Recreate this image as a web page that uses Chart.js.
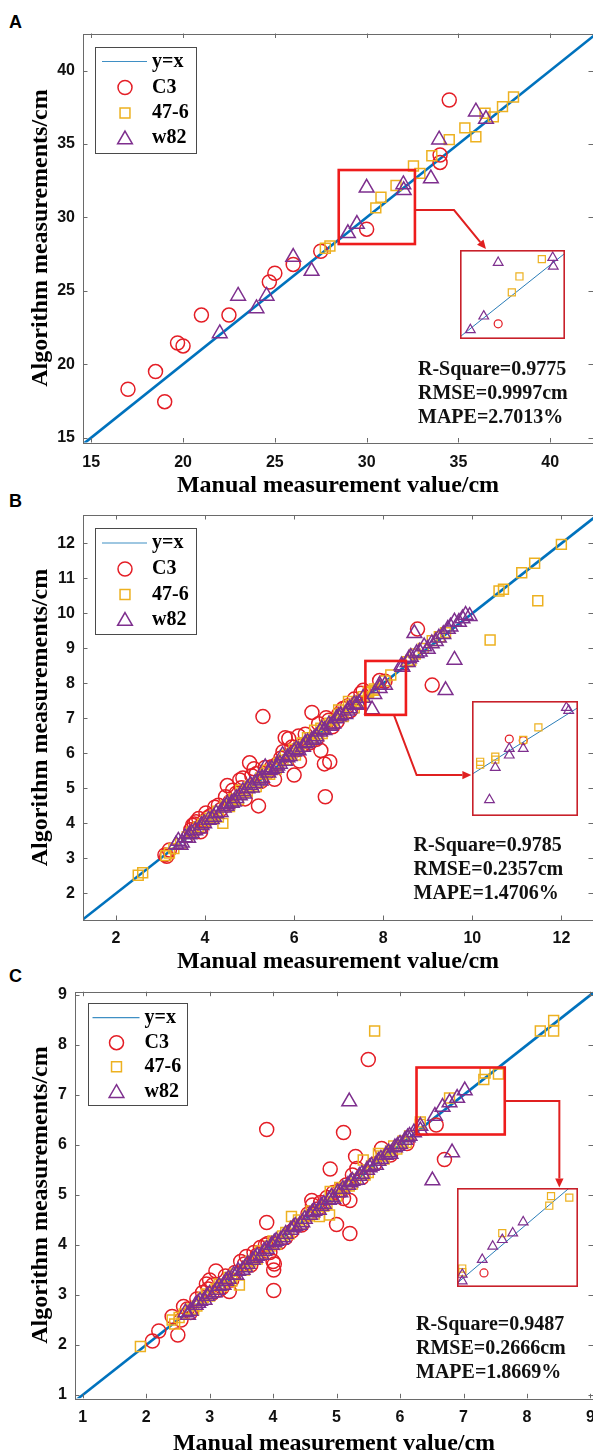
<!DOCTYPE html>
<html><head><meta charset="utf-8">
<script src="https://cdn.jsdelivr.net/npm/chart.js@4.4.1/dist/chart.umd.min.js"></script>
<style>
html,body{margin:0;padding:0;background:#fff;}
body{width:593px;height:1455px;position:relative;overflow:hidden;}
canvas{position:absolute;left:0;}
.lab{position:absolute;font:bold 18px "Liberation Sans",Arial,sans-serif;color:#000;line-height:20px;}
</style></head><body>
<div class="lab" style="left:9px;top:12px">A</div>
<div class="lab" style="left:9px;top:491px">B</div>
<div class="lab" style="left:9px;top:966px">C</div>
<canvas id="cA" width="593" height="500" style="top:0px"></canvas>
<canvas id="cB" width="593" height="490" style="top:490px"></canvas>
<canvas id="cC" width="593" height="490" style="top:965px"></canvas>
<script>
// ---------------- shared text ----------------
const xTitle = 'Manual measurement value/cm';
const yTitle = 'Algorithm measurements/cm';
const legendLabels = ['y=x', 'C3', '47-6', 'w82'];

// ---------------- Panel A ----------------
const A_xTicks = [15, 20, 25, 30, 35, 40];
const A_yTicks = [15, 20, 25, 30, 35, 40];
const A_xLim = [14.55, 42.33];
const A_yLim = [14.67, 42.53];
const A_C3 = [[17.0,18.3],[18.5,19.5],[19.0,17.45],[19.7,21.45],[20.0,21.25],[21.0,23.35],[22.5,23.35],[24.7,25.6],[25.0,26.2],[26.0,26.8],[27.5,27.7],[30.0,29.2],[34.0,33.75],[34.0,34.25],[34.5,38.0]];
const A_476 = [[27.75,27.9],[28.0,28.05],[30.5,30.65],[30.78,31.38],[31.6,32.18],[32.55,33.5],[32.9,33.0],[33.55,34.2],[34.5,35.3],[35.35,36.1],[35.95,35.5],[36.45,37.1],[36.9,36.85],[37.4,37.55],[38.0,38.2]];
const A_w82 = [[22.0,22.1],[23.0,24.65],[24.0,23.8],[24.55,24.65],[26.0,27.3],[27.0,26.35],[28.98,28.92],[29.47,29.55],[30.0,32.02],[32.0,32.25],[32.02,31.85],[33.5,32.65],[33.95,35.3],[35.95,37.2],[36.5,36.7]];
const A_zoomBox = [28.48, 32.63, 28.19, 33.23];
const A_insetArea = [35.1, 40.82, 21.7, 27.79];
const A_insetLim = [28.6, 32.45, 28.5, 32.6];
const A_arrow = [[32.63, 30.5], [34.76, 30.5], [36.5, 27.85]];
const A_stats = ['R-Square=0.9775', 'RMSE=0.9997cm', 'MAPE=2.7013%'];

// ---------------- Panel B ----------------
const B_xTicks = [2, 4, 6, 8, 10, 12];
const B_yTicks = [2, 3, 4, 5, 6, 7, 8, 9, 10, 11, 12];
const B_xLim = [1.26, 12.71];
const B_yLim = [1.24, 12.81];
const B_C3 = [[3.10,3.10],[3.14,3.06],[3.20,3.24],[3.68,3.82],[3.72,3.95],[3.76,3.98],[3.80,4.05],[3.82,3.86],[3.86,4.14],[3.90,3.76],[3.93,3.92],[3.96,4.04],[4.02,4.30],[4.06,4.16],[4.12,4.22],[4.22,4.46],[4.30,4.52],[4.36,4.40],[4.46,4.76],[4.50,5.08],[4.56,4.62],[4.62,4.95],[4.70,4.86],[4.78,5.24],[4.82,5.02],[4.85,5.30],[4.90,4.70],[5.00,5.73],[5.05,5.36],[5.10,5.56],[5.15,5.42],[5.20,4.50],[5.26,5.20],[5.30,7.05],[5.35,5.60],[5.40,5.46],[5.50,5.62],[5.56,5.26],[5.62,5.70],[5.70,5.86],[5.75,6.05],[5.80,6.45],[5.88,6.42],[5.95,6.18],[6.00,5.38],[6.06,6.10],[6.10,6.50],[6.12,5.78],[6.20,6.24],[6.25,6.55],[6.35,6.30],[6.40,7.17],[6.50,6.40],[6.55,6.85],[6.60,6.08],[6.68,5.70],[6.70,4.76],[6.72,7.02],[6.78,6.95],[6.80,5.76],[6.86,6.76],[6.96,6.90],[7.00,7.12],[7.10,7.28],[7.20,7.35],[7.26,7.22],[7.35,7.55],[7.42,7.46],[7.50,7.72],[7.55,7.80],[7.92,8.08],[8.04,8.06],[8.77,9.55],[9.10,7.95]];
const B_476 = [[2.50,2.52],[2.60,2.59],[3.12,3.08],[3.20,3.15],[3.30,3.28],[3.45,3.42],[3.60,3.62],[3.70,3.75],[3.85,3.90],[3.95,3.98],[4.02,4.08],[4.10,4.15],[4.20,4.22],[4.28,4.35],[4.30,4.18],[4.40,4.00],[4.45,4.50],[4.55,4.48],[4.58,4.62],[4.65,4.70],[4.75,4.68],[4.80,4.95],[4.85,4.88],[4.95,4.92],[5.00,5.05],[5.05,5.10],[5.15,5.05],[5.20,5.18],[5.25,5.30],[5.35,5.42],[5.40,5.52],[5.45,5.40],[5.55,5.60],[5.60,5.55],[5.65,5.72],[5.75,5.80],[5.80,5.95],[5.85,5.82],[5.95,6.00],[6.00,6.12],[6.03,5.95],[6.12,6.19],[6.18,6.30],[6.25,6.30],[6.30,6.45],[6.37,6.38],[6.42,6.40],[6.46,6.66],[6.55,6.52],[6.60,6.72],[6.63,6.57],[6.72,6.80],[6.80,6.86],[6.85,6.80],[6.90,6.95],[7.00,7.24],[7.05,7.15],[7.10,7.05],[7.22,7.48],[7.28,7.40],[7.35,7.30],[7.45,7.50],[7.55,7.62],[7.67,7.77],[7.67,7.73],[7.80,7.84],[7.80,7.80],[8.04,8.07],[8.17,8.24],[8.55,8.62],[8.62,8.66],[8.72,8.84],[8.90,9.00],[9.10,9.22],[9.26,9.33],[9.40,9.45],[10.40,9.24],[10.60,10.64],[10.70,10.69],[11.11,11.16],[11.40,11.43],[11.47,10.36],[12.00,11.97]];
const B_w82 = [[3.35,3.40],[3.40,3.50],[3.45,3.38],[3.48,3.45],[3.55,3.60],[3.62,3.58],[3.65,3.68],[3.70,3.72],[3.78,3.80],[3.88,3.85],[3.92,3.95],[3.98,4.00],[4.08,4.10],[4.15,4.12],[4.20,4.18],[4.25,4.28],[4.35,4.32],[4.42,4.45],[4.48,4.50],[4.50,4.55],[4.60,4.58],[4.65,4.62],[4.70,4.72],[4.78,4.80],[4.85,4.92],[4.88,4.85],[4.95,5.00],[5.02,5.10],[5.05,5.02],[5.12,5.15],[5.20,5.25],[5.25,5.22],[5.28,5.30],[5.35,5.60],[5.42,5.45],[5.45,5.52],[5.50,5.55],[5.60,5.58],[5.62,5.65],[5.68,5.70],[5.74,5.95],[5.80,5.78],[5.85,5.88],[5.90,5.92],[6.00,6.05],[6.05,6.12],[6.10,6.08],[6.20,6.18],[6.25,6.28],[6.30,6.32],[6.40,6.38],[6.45,6.42],[6.50,6.48],[6.58,6.62],[6.62,6.70],[6.68,6.66],[6.78,6.82],[6.82,6.78],[6.88,6.85],[6.95,7.00],[7.00,7.05],[7.05,7.08],[7.15,7.12],[7.20,7.22],[7.25,7.28],[7.35,7.40],[7.40,7.38],[7.45,7.42],[7.55,7.58],[7.75,7.25],[7.80,7.69],[7.92,7.86],[7.92,7.95],[8.04,7.95],[8.41,8.51],[8.43,8.47],[8.55,8.60],[8.58,8.71],[8.62,8.75],[8.70,9.43],[8.75,8.86],[8.82,8.90],[8.92,9.05],[9.00,8.98],[9.09,9.14],[9.18,9.20],[9.25,9.30],[9.35,9.40],[9.40,7.80],[9.45,9.55],[9.51,9.62],[9.60,8.67],[9.60,9.76],[9.70,9.75],[9.78,9.85],[9.85,9.95],[9.94,9.92]];
const B_zoomBox = [7.6, 8.51, 7.1, 8.64];
const B_insetArea = [10.0, 12.38, 4.21, 7.5];
const B_insetLim = [7.6, 8.51, 7.03, 8.6];
const B_arrow = [[8.24, 7.1], [8.75, 5.38], [9.98, 5.38]];
const B_stats = ['R-Square=0.9785', 'RMSE=0.2357cm', 'MAPE=1.4706%'];

// ---------------- Panel C ----------------
const C_xTicks = [1, 2, 3, 4, 5, 6, 7, 8, 9];
const C_yTicks = [1, 2, 3, 4, 5, 6, 7, 8, 9];
const C_xLim = [0.88, 9.04];
const C_yLim = [0.934, 9.066];
const C_C3 = [[2.10,2.08],[2.20,2.28],[2.41,2.57],[2.50,2.20],[2.55,2.50],[2.59,2.77],[2.65,2.72],[2.70,2.65],[2.80,2.92],[2.89,3.05],[2.95,3.22],[2.98,3.12],[3.00,3.30],[3.04,3.03],[3.05,3.20],[3.10,3.48],[3.15,3.10],[3.20,3.15],[3.25,3.38],[3.31,3.07],[3.35,3.30],[3.40,3.45],[3.49,3.67],[3.55,3.62],[3.58,3.77],[3.65,3.60],[3.70,3.85],[3.75,3.80],[3.80,3.95],[3.88,4.00],[3.90,6.31],[3.90,4.45],[3.92,4.03],[3.95,3.85],[4.00,3.67],[4.01,3.50],[4.01,3.09],[4.02,3.62],[4.10,4.05],[4.20,4.15],[4.30,4.28],[4.45,4.40],[4.55,4.62],[4.61,4.89],[4.62,4.80],[4.70,4.72],[4.75,4.85],[4.85,4.95],[4.90,5.52],[4.95,5.05],[5.00,4.41],[5.05,5.10],[5.11,4.93],[5.11,6.25],[5.15,5.20],[5.21,4.89],[5.21,4.23],[5.25,5.40],[5.30,5.77],[5.32,5.53],[5.40,5.35],[5.50,7.71],[5.60,5.62],[5.71,5.93],[5.85,5.80],[6.11,6.03],[6.57,6.40],[6.70,5.71]];
const C_476 = [[1.91,1.97],[2.41,2.50],[2.45,2.42],[2.52,2.55],[2.60,2.62],[2.70,2.72],[2.75,2.70],[2.80,2.78],[2.90,2.95],[2.95,3.02],[3.00,2.98],[3.10,3.12],[3.15,3.22],[3.20,3.18],[3.30,3.35],[3.35,3.28],[3.40,3.42],[3.47,3.20],[3.55,3.50],[3.60,3.58],[3.65,3.68],[3.75,3.72],[3.80,3.88],[3.85,3.82],[3.95,3.98],[4.00,4.08],[4.05,4.02],[4.15,4.18],[4.20,4.25],[4.25,4.22],[4.29,4.57],[4.35,4.38],[4.40,4.50],[4.45,4.42],[4.55,4.58],[4.60,4.68],[4.65,4.62],[4.73,4.57],[4.80,4.78],[4.85,4.82],[4.89,4.60],[4.90,5.07],[5.00,4.98],[5.05,5.15],[5.10,5.12],[5.20,5.18],[5.25,5.22],[5.30,5.32],[5.42,5.70],[5.45,5.40],[5.50,5.45],[5.55,5.58],[5.60,8.28],[5.66,5.83],[5.70,5.78],[5.75,5.72],[5.85,5.88],[5.90,5.98],[5.95,5.92],[6.05,6.08],[6.10,6.05],[6.15,6.18],[6.32,6.46],[6.32,6.41],[6.78,6.94],[7.34,7.44],[7.32,7.31],[7.55,7.42],[8.21,8.28],[8.42,8.49],[8.42,8.28]];
const C_w82 = [[2.62,2.65],[2.66,2.60],[2.70,2.68],[2.78,2.80],[2.82,2.84],[2.85,2.88],[2.92,2.90],[2.96,2.98],[3.00,3.02],[3.08,3.05],[3.12,3.10],[3.15,3.18],[3.22,3.20],[3.26,3.28],[3.30,3.32],[3.38,3.40],[3.42,3.40],[3.45,3.48],[3.52,3.50],[3.56,3.55],[3.60,3.62],[3.68,3.70],[3.72,3.74],[3.75,3.78],[3.82,3.80],[3.86,3.88],[3.90,3.92],[3.98,4.00],[4.02,4.05],[4.05,4.08],[4.12,4.10],[4.16,4.15],[4.20,4.22],[4.28,4.30],[4.32,4.35],[4.35,4.38],[4.42,4.40],[4.46,4.45],[4.50,4.52],[4.58,4.60],[4.62,4.65],[4.65,4.68],[4.72,4.70],[4.76,4.78],[4.80,4.82],[4.88,4.90],[4.92,4.96],[4.95,4.92],[5.02,5.05],[5.06,5.05],[5.10,5.12],[5.18,5.20],[5.20,6.87],[5.22,5.25],[5.25,5.28],[5.32,5.30],[5.36,5.38],[5.40,5.42],[5.48,5.50],[5.52,5.55],[5.55,5.58],[5.62,5.60],[5.66,5.68],[5.70,5.72],[5.78,5.80],[5.82,5.85],[5.85,5.82],[5.92,5.95],[5.96,5.98],[6.00,6.02],[6.08,6.10],[6.12,6.15],[6.15,6.18],[6.22,6.25],[6.32,6.38],[6.32,6.29],[6.51,5.29],[6.55,6.58],[6.67,6.76],[6.78,6.85],[6.82,5.85],[6.90,6.94],[7.02,7.09]];
const C_zoomBox = [6.26, 7.65, 6.21, 7.55];
const C_insetArea = [6.9, 8.81, 3.17, 5.15];
const C_insetLim = [6.26, 7.65, 6.21, 7.55];
const C_arrow = [[7.65, 6.88], [8.51, 6.88], [8.51, 5.15]];
const C_stats = ['R-Square=0.9487', 'RMSE=0.2666cm', 'MAPE=1.8669%'];

// ---------------- styles ----------------
const COL_LINE = '#0072BD', COL_C3 = '#e41e26', COL_476 = '#edb120', COL_W82 = '#7e2f8e';
const SERIF = '"Liberation Serif","Times New Roman",serif';
const SANS = '"Liberation Sans",Arial,sans-serif';
const TRANSP = 'rgba(0,0,0,0)';

function pts(a) { return a.map(p => ({x: p[0], y: p[1]})); }

function drawMarker(ctx, style, r, x, y) {
  if (Chart.helpers && Chart.helpers.drawPoint) {
    Chart.helpers.drawPoint(ctx, {pointStyle: style, radius: r, rotation: 0, borderWidth: ctx.lineWidth}, x, y);
    return;
  }
  ctx.beginPath();
  if (style === 'circle') ctx.arc(x, y, r, 0, Math.PI * 2);
  else if (style === 'rect') { const s = Math.SQRT1_2 * r; ctx.rect(x - s, y - s, 2 * s, 2 * s); }
  else { for (let i = 0; i < 3; i++) { const a = i * 2 * Math.PI / 3; const px = x + Math.sin(a) * r, py = y - Math.cos(a) * r; i ? ctx.lineTo(px, py) : ctx.moveTo(px, py); } ctx.closePath(); }
  ctx.stroke();
}

const decoPlugin = {
  id: 'deco',
  afterDatasetsDraw(chart, args, o) {
    const {ctx, chartArea: ca} = chart;
    const sx = chart.scales.x, sy = chart.scales.y;
    ctx.save();
    // inward ticks + frame
    ctx.strokeStyle = '#6a6a6a'; ctx.lineWidth = 1;
    ctx.beginPath();
    const tl = 4.5;
    sx.ticks.forEach(t => { const p = Math.round(sx.getPixelForValue(t.value)) + 0.5;
      ctx.moveTo(p, ca.bottom); ctx.lineTo(p, ca.bottom - tl); ctx.moveTo(p, ca.top); ctx.lineTo(p, ca.top + tl); });
    sy.ticks.forEach(t => { const p = Math.round(sy.getPixelForValue(t.value)) + 0.5;
      ctx.moveTo(ca.left, p); ctx.lineTo(ca.left + tl, p); ctx.moveTo(ca.right, p); ctx.lineTo(ca.right - tl, p); });
    ctx.stroke();
    ctx.strokeRect(Math.round(ca.left) + 0.5, Math.round(ca.top) + 0.5, Math.round(ca.right - ca.left), Math.round(ca.bottom - ca.top));
    // zoom box
    const b = o.box;
    const bx0 = sx.getPixelForValue(b[0]), bx1 = sx.getPixelForValue(b[1]);
    const by0 = sy.getPixelForValue(b[3]), by1 = sy.getPixelForValue(b[2]);
    ctx.strokeStyle = '#ee1c1c'; ctx.lineWidth = 2.6;
    ctx.strokeRect(bx0, by0, bx1 - bx0, by1 - by0);
    // arrow
    const ap = o.arrow.map(p => [sx.getPixelForValue(p[0]), sy.getPixelForValue(p[1])]);
    ctx.strokeStyle = '#e02020'; ctx.fillStyle = '#e02020'; ctx.lineWidth = 2;
    const n = ap.length, e = ap[n - 1], s = ap[n - 2];
    const ang = Math.atan2(e[1] - s[1], e[0] - s[0]);
    const hl = 9, hw = 4.2;
    const bxp = e[0] - Math.cos(ang) * hl, byp = e[1] - Math.sin(ang) * hl;
    ctx.beginPath(); ctx.moveTo(ap[0][0], ap[0][1]);
    for (let i = 1; i < n - 1; i++) ctx.lineTo(ap[i][0], ap[i][1]);
    ctx.lineTo(bxp, byp); ctx.stroke();
    ctx.beginPath(); ctx.moveTo(e[0], e[1]);
    ctx.lineTo(bxp + Math.sin(ang) * hw, byp - Math.cos(ang) * hw);
    ctx.lineTo(bxp - Math.sin(ang) * hw, byp + Math.cos(ang) * hw);
    ctx.closePath(); ctx.fill();
    // legend
    const L = o.legend;
    const lx = ca.left + L.dx, ly = ca.top + L.dy;
    ctx.fillStyle = '#fff'; ctx.fillRect(lx, ly, L.w, L.h);
    ctx.strokeStyle = '#4a4a4a'; ctx.lineWidth = 1;
    ctx.strokeRect(Math.round(lx) + 0.5, Math.round(ly) + 0.5, Math.round(L.w), Math.round(L.h));
    ctx.font = 'bold 20px ' + SERIF; ctx.textBaseline = 'middle'; ctx.textAlign = 'left'; ctx.fillStyle = '#000';
    const styles = [null, 'circle', 'rect', 'triangle'];
    const cols = [COL_LINE, COL_C3, COL_476, COL_W82];
    const radii = [0, 7, 7, 8.5];
    legendLabels.forEach((lab, i) => {
      const yy = ly + L.rows[i];
      if (i === 0) {
        ctx.strokeStyle = '#3f8fc4'; ctx.lineWidth = 1.2;
        ctx.beginPath(); ctx.moveTo(lx + L.line[0], yy); ctx.lineTo(lx + L.line[1], yy); ctx.stroke();
      } else {
        ctx.strokeStyle = cols[i]; ctx.fillStyle = TRANSP; ctx.lineWidth = 1.5;
        drawMarker(ctx, styles[i], radii[i], lx + L.mx, yy + (i === 3 ? 1.5 : 0));
      }
      ctx.fillStyle = '#000';
      ctx.fillText(lab, lx + L.tx, yy);
    });
    // stats
    ctx.font = 'bold 20px ' + SERIF; ctx.fillStyle = '#111';
    o.stats.forEach((t, i) => ctx.fillText(t, o.statsPos[0], o.statsPos[1] + i * o.statsPos[2]));
    ctx.restore();
  }
};

const insetPlugin = {
  id: 'insetFrame',
  beforeDraw(chart) { const {ctx, width, height} = chart; ctx.save(); ctx.fillStyle = '#fff'; ctx.fillRect(0, 0, width, height); ctx.restore(); },
  afterDraw(chart) { const {ctx, width, height} = chart; ctx.save(); ctx.strokeStyle = '#c8202a'; ctx.lineWidth = 1.6; ctx.strokeRect(0.8, 0.8, width - 1.6, height - 1.6); ctx.restore(); }
};

function markerSets(c3, s476, w82, big) {
  const r = big ? [7, 7, 8.5] : [4, 5, 5.6];
  const bw = big ? 1.5 : 1.2;
  return [
    {label: legendLabels[1], data: pts(c3), pointStyle: 'circle', pointRadius: r[0], borderColor: COL_C3, pointBorderColor: COL_C3, pointBackgroundColor: TRANSP, backgroundColor: TRANSP, borderWidth: bw, pointBorderWidth: bw, order: 2},
    {label: legendLabels[2], data: pts(s476), pointStyle: 'rect', pointRadius: r[1], borderColor: COL_476, pointBorderColor: COL_476, pointBackgroundColor: TRANSP, backgroundColor: TRANSP, borderWidth: bw, pointBorderWidth: bw, order: 1},
    {label: legendLabels[3], data: pts(w82), pointStyle: 'triangle', pointRadius: r[2], borderColor: COL_W82, pointBorderColor: COL_W82, pointBackgroundColor: TRANSP, backgroundColor: TRANSP, borderWidth: bw, pointBorderWidth: bw, order: 0}
  ];
}

function buildPanel(cfg) {
  const cv = document.getElementById(cfg.id);
  const padL = cfg.yTitleX - 14.4;
  const yW = cfg.L - padL;
  const xH = cfg.xTitleY + 14.4 - cfg.B;
  const padT = cfg.T - cfg.top;
  const padB = cfg.top + cv.height - cfg.B - xH;
  const lo = Math.min(cfg.xLim[0], cfg.yLim[0]), hi = Math.max(cfg.xLim[1], cfg.yLim[1]);
  const tickFont = {family: SANS, size: 16, weight: 'bold'};
  const titleFont = {family: SERIF, size: 24, weight: 'bold', lineHeight: 1.2};
  const chart = new Chart(cv, {
    type: 'scatter',
    data: {datasets: [
      {label: legendLabels[0], type: 'line', data: [{x: lo, y: lo}, {x: hi, y: hi}], borderColor: COL_LINE, borderWidth: 2.6, pointRadius: 0, fill: false, clip: 0, order: 3}
    ].concat(markerSets(cfg.c3, cfg.s476, cfg.w82, true))},
    options: {
      responsive: false, animation: false, events: [],
      layout: {autoPadding: false, padding: {left: padL, top: padT, right: 593 - cfg.R, bottom: padB}},
      plugins: {
        legend: {display: false}, tooltip: {enabled: false},
        deco: {box: cfg.box, arrow: cfg.arrow, stats: cfg.stats,
               statsPos: [cfg.statsX, cfg.statsY - cfg.top, cfg.statsDY], legend: cfg.legend}
      },
      scales: {
        x: {type: 'linear', position: 'bottom', min: cfg.xLim[0], max: cfg.xLim[1],
            afterBuildTicks: s => { s.ticks = cfg.xTicks.map(v => ({value: v})); },
            afterFit: s => { s.height = xH; s.paddingLeft = 0; s.paddingRight = 0; s.paddingTop = 0; s.paddingBottom = 0; },
            grid: {display: false, drawTicks: false}, border: {display: false},
            ticks: {autoSkip: false, maxRotation: 0, padding: cfg.xTickPad, font: tickFont, color: '#111'},
            title: {display: true, text: xTitle, font: titleFont, color: '#000', padding: 0}},
        y: {type: 'linear', position: 'left', min: cfg.yLim[0], max: cfg.yLim[1],
            afterBuildTicks: s => { s.ticks = cfg.yTicks.map(v => ({value: v})); },
            afterFit: s => { s.width = yW; s.paddingLeft = 0; s.paddingRight = 0; s.paddingTop = 0; s.paddingBottom = 0; },
            grid: {display: false, drawTicks: false}, border: {display: false},
            ticks: {autoSkip: false, padding: 8, font: tickFont, color: '#111'},
            title: {display: true, text: yTitle, font: titleFont, color: '#000', padding: 0}}
      }
    },
    plugins: [decoPlugin]
  });
  // inset chart positioned through the main chart's scales
  const sx = chart.scales.x, sy = chart.scales.y, ia = cfg.insetArea;
  const l = sx.getPixelForValue(ia[0]), r = sx.getPixelForValue(ia[1]);
  const t = sy.getPixelForValue(ia[3]), b = sy.getPixelForValue(ia[2]);
  const ic = document.createElement('canvas');
  ic.width = Math.round(r - l); ic.height = Math.round(b - t);
  ic.style.left = Math.round(l) + 'px'; ic.style.top = Math.round(cfg.top + t) + 'px';
  document.body.appendChild(ic);
  const il = cfg.insetLim;
  new Chart(ic, {
    type: 'scatter',
    data: {datasets: [
      {label: legendLabels[0], type: 'line', data: [{x: il[0], y: il[0]}, {x: il[1], y: il[1]}], borderColor: '#2a7db8', borderWidth: 1, pointRadius: 0, fill: false, clip: 0, order: 3}
    ].concat(markerSets(cfg.c3, cfg.s476, cfg.w82, false))},
    options: {
      responsive: false, animation: false, events: [],
      layout: {autoPadding: false, padding: 0},
      plugins: {legend: {display: false}, tooltip: {enabled: false}},
      scales: {x: {type: 'linear', display: false, min: il[0], max: il[1]},
               y: {type: 'linear', display: false, min: il[2], max: il[3]}}
    },
    plugins: [insetPlugin]
  });
}

const legendA = {dx: 12, dy: 13, w: 101, h: 106, rows: [15, 41, 66.5, 91.5], line: [7, 52], mx: 30, tx: 57};
const legendC = {dx: 12.5, dy: 11.5, w: 99, h: 102, rows: [14.5, 39.5, 63.5, 88.5], line: [5, 52], mx: 29, tx: 57};

buildPanel({id: 'cA', top: 0, L: 83, T: 33.5, R: 593, B: 442.5, yTitleX: 41, xTitleY: 486, xTickPad: 10,
  xLim: A_xLim, yLim: A_yLim, xTicks: A_xTicks, yTicks: A_yTicks, c3: A_C3, s476: A_476, w82: A_w82,
  box: A_zoomBox, arrow: A_arrow, insetArea: A_insetArea, insetLim: A_insetLim, stats: A_stats,
  statsX: 418, statsY: 370, statsDY: 24, legend: legendA});
buildPanel({id: 'cB', top: 490, L: 83, T: 515, R: 593, B: 920, yTitleX: 41, xTitleY: 962, xTickPad: 9,
  xLim: B_xLim, yLim: B_yLim, xTicks: B_xTicks, yTicks: B_yTicks, c3: B_C3, s476: B_476, w82: B_w82,
  box: B_zoomBox, arrow: B_arrow, insetArea: B_insetArea, insetLim: B_insetLim, stats: B_stats,
  statsX: 413.5, statsY: 846, statsDY: 23.7, legend: legendA});
buildPanel({id: 'cC', top: 965, L: 75, T: 991.7, R: 593, B: 1398.3, yTitleX: 41, xTitleY: 1444, xTickPad: 10,
  xLim: C_xLim, yLim: C_yLim, xTicks: C_xTicks, yTicks: C_yTicks, c3: C_C3, s476: C_476, w82: C_w82,
  box: C_zoomBox, arrow: C_arrow, insetArea: C_insetArea, insetLim: C_insetLim, stats: C_stats,
  statsX: 416, statsY: 1325, statsDY: 24, legend: legendC});
</script>
</body></html>
